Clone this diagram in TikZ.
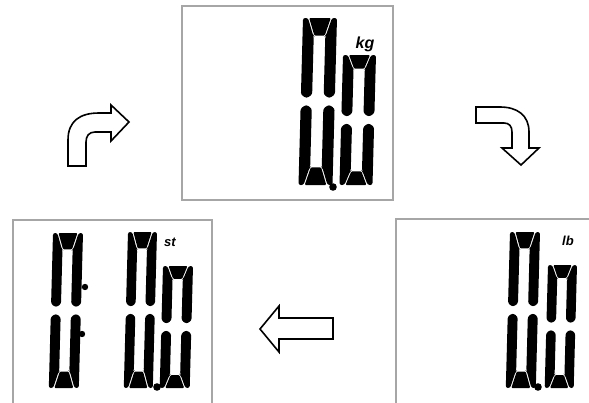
\documentclass[tikz,border=0pt]{standalone}
\usepackage{fontspec}
\newfontfamily\unitfont{Liberation Sans}
\tikzset{
  boxframe/.style={draw=black!35, line width=1.5pt},
  bigarrow/.style={draw=black, fill=white, line width=1.6pt, line join=miter},
  unitlabel/.style={inner sep=0pt},
}
\newcommand\lcdside{%
  \fill[rounded corners=2.2pt] (0,{(\lcdH/2-\lcdM)/2}) -- (0,0) -- ({\lcdT/2-\lcdG},0) -- ({\lcdT-\lcdG},\lcdS) -- (\lcdT,{\lcdS+\lcdG}) -- (\lcdT,{\lcdH/2-\lcdM-\lcdT/3}) -- ({\lcdT/2},{\lcdH/2-\lcdM}) -- (0,{\lcdH/2-\lcdM-\lcdT/3}) -- cycle;}
\newcommand\lcdbar{%
  \fill[rounded corners=1pt] ({\lcdT/2+\lcdG},0) -- ({\lcdW-\lcdT/2-\lcdG},0) -- ({\lcdW-\lcdT-\lcdG},\lcdS) -- ({\lcdT+\lcdG},\lcdS) -- cycle;}
\newcommand\lcdzero[4]{%
  \begin{scope}[shift={(#1,#2)}, xslant=0.027]
    \pgfmathsetmacro\lcdW{#3}%
    \pgfmathsetmacro\lcdH{#4}%
    \pgfmathsetmacro\lcdT{0.33*#3}%
    \pgfmathsetmacro\lcdS{0.105*#4}%
    \def\lcdG{0.6}%
    \def\lcdM{3.2}%
    \lcdside
    \begin{scope}[shift={(\lcdW,0)},xscale=-1]\lcdside\end{scope}
    \begin{scope}[shift={(0,\lcdH)},yscale=-1]\lcdside\end{scope}
    \begin{scope}[shift={(\lcdW,\lcdH)},xscale=-1,yscale=-1]\lcdside\end{scope}
    \lcdbar
    \begin{scope}[shift={(0,\lcdH)},yscale=-1]\lcdbar\end{scope}
  \end{scope}}
\begin{document}
\begin{tikzpicture}[x=1pt,y=-1pt]
\useasboundingbox (0,0) rectangle (589,402);
\fill[white] (0,0) rectangle (589,402);
\clip (0,0) rectangle (589,402);
% frames
\draw[boxframe] (182,6) rectangle (393,200);
\draw[boxframe] (13,220) rectangle (212,420);
\draw[boxframe] (396,219) rectangle (600,420);
% top display (kg)
\lcdzero{303}{18}{34}{167}
\lcdzero{343}{55}{33}{130}
\fill (333,187) circle[radius=3.8pt];
\node[unitlabel, font=\unitfont\bfseries\itshape\fontsize{16}{16}\selectfont] (kg) at (365,44) {kg};
% bottom-left display (st)
\lcdzero{53}{233}{30}{155}
\fill (85,287) circle[radius=3.2pt];
\fill (82,334) circle[radius=3.2pt];
\lcdzero{128}{232}{29}{156}
\lcdzero{163}{266}{30}{122}
\fill (157,387) circle[radius=3.8pt];
\node[unitlabel, font=\unitfont\bfseries\itshape\fontsize{13}{13}\selectfont] (st) at (170,242) {st};
% bottom-right display (lb)
\lcdzero{510}{232}{30}{156}
\lcdzero{548}{265}{29}{123}
\fill (538,387) circle[radius=3.8pt];
\node[unitlabel, font=\unitfont\bfseries\itshape\fontsize{13}{13}\selectfont] (lb) at (568,241) {lb};
% arrows
\draw[bigarrow] (68,166) -- (68,140) .. controls (68,121) and (80,113) .. (99,113) -- (111,113) -- (111,105) -- (129,122) -- (111,141) -- (111,132) -- (95,132) .. controls (89,132) and (86,136) .. (86,142) -- (86,166) -- cycle;
\draw[bigarrow] (476,107) -- (500,107) .. controls (517,107) and (529,115) .. (529,132) -- (529,148) -- (539,148) -- (521,165) -- (502,148) -- (512,148) -- (512,132) .. controls (512,126) and (509,123) .. (504,123) -- (476,123) -- cycle;
\draw[bigarrow] (260,329) -- (279,306) -- (279,318) -- (333,318) -- (333,339) -- (279,339) -- (279,352) -- cycle;
\end{tikzpicture}
\end{document}
